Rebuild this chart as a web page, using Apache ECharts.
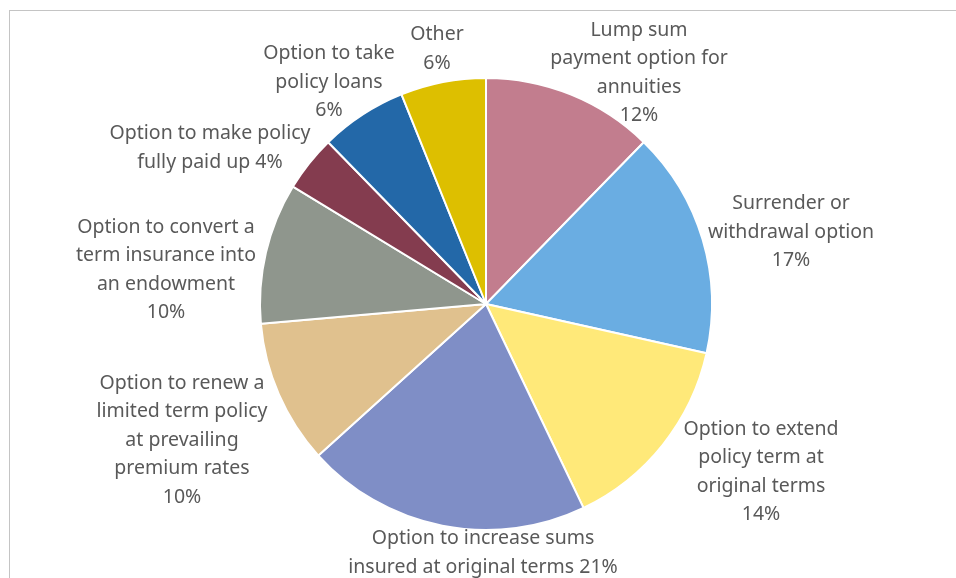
<!DOCTYPE html>
<html>
<head>
<meta charset="utf-8">
<script src="https://cdn.jsdelivr.net/npm/echarts@6/dist/echarts.min.js"></script>
<style>
  html, body { margin: 0; padding: 0; background: #fff; }
  #frame { position: absolute; left: 9px; top: 10px; right: 0; bottom: 0; border-left: 1px solid #c4c4c4; border-top: 1px solid #c4c4c4; }
  #chart { position: absolute; left: 0; top: 0; width: 956px; height: 578px; }
</style>
</head>
<body>
<div id="frame"></div>
<div id="chart"></div>
<script>
// Categories (line breaks as wrapped in the reference)
const categories = [
  "Lump sum\npayment option for\nannuities",
  "Surrender or\nwithdrawal option",
  "Option to extend\npolicy term at\noriginal terms",
  "Option to increase sums\ninsured at original terms",
  "Option to renew a\nlimited term policy\nat prevailing\npremium rates",
  "Option to convert a\nterm insurance into\nan endowment",
  "Option to make policy\nfully paid up",
  "Option to take\npolicy loans",
  "Other"
];
// Slice shares as measured from the slice angles in the picture (%)
const values = [12.3, 16.2, 14.4, 20.4, 10.3, 10.1, 4.0, 6.2, 6.1];
// Percentages as printed on the labels
const pctLabels = [12, 17, 14, 21, 10, 10, 4, 6, 6];
// Separator between name and percentage in each label
const pctSeparator = ["\n", "\n", "\n", " ", "\n", "\n", " ", "\n", "\n"];
// Label placement relative to pie centre (px), as laid out in the reference
const labelOffsetX = [153, 305, 275, -3, -304, -320, -276, -157, -49];
const labelOffsetY = [-231, -72, 168, 249, 136, -34, -156, -222, -255];

const colors = ["#C27D8E", "#6AADE2", "#FFE979", "#7F8EC6", "#E0C18E", "#8F968D", "#843C4F", "#2368A8", "#DDBF00"];

const pieCenter = [486, 304];

const chart = echarts.init(document.getElementById('chart'), null, { renderer: 'canvas' });
chart.setOption({
  animation: false,
  backgroundColor: 'transparent',
  color: colors,
  series: [{
    type: 'pie',
    center: pieCenter,
    radius: 226,
    startAngle: 90,
    clockwise: true,
    itemStyle: { borderColor: '#ffffff', borderWidth: 2 },
    label: {
      show: true,
      position: 'outside',
      color: '#595959',
      fontFamily: '"Noto Sans", "Open Sans", sans-serif',
      fontSize: 19.5,
      lineHeight: 28.5,
      align: 'center',
      formatter: p => p.name + pctSeparator[p.dataIndex] + pctLabels[p.dataIndex] + '%'
    },
    labelLine: { show: false },
    labelLayout: p => ({
      x: pieCenter[0] + labelOffsetX[p.dataIndex],
      y: pieCenter[1] + labelOffsetY[p.dataIndex],
      align: 'center',
      verticalAlign: 'middle',
      hideOverlap: false
    }),
    data: categories.map((c, i) => ({ name: c, value: values[i] }))
  }]
});
</script>
</body>
</html>
